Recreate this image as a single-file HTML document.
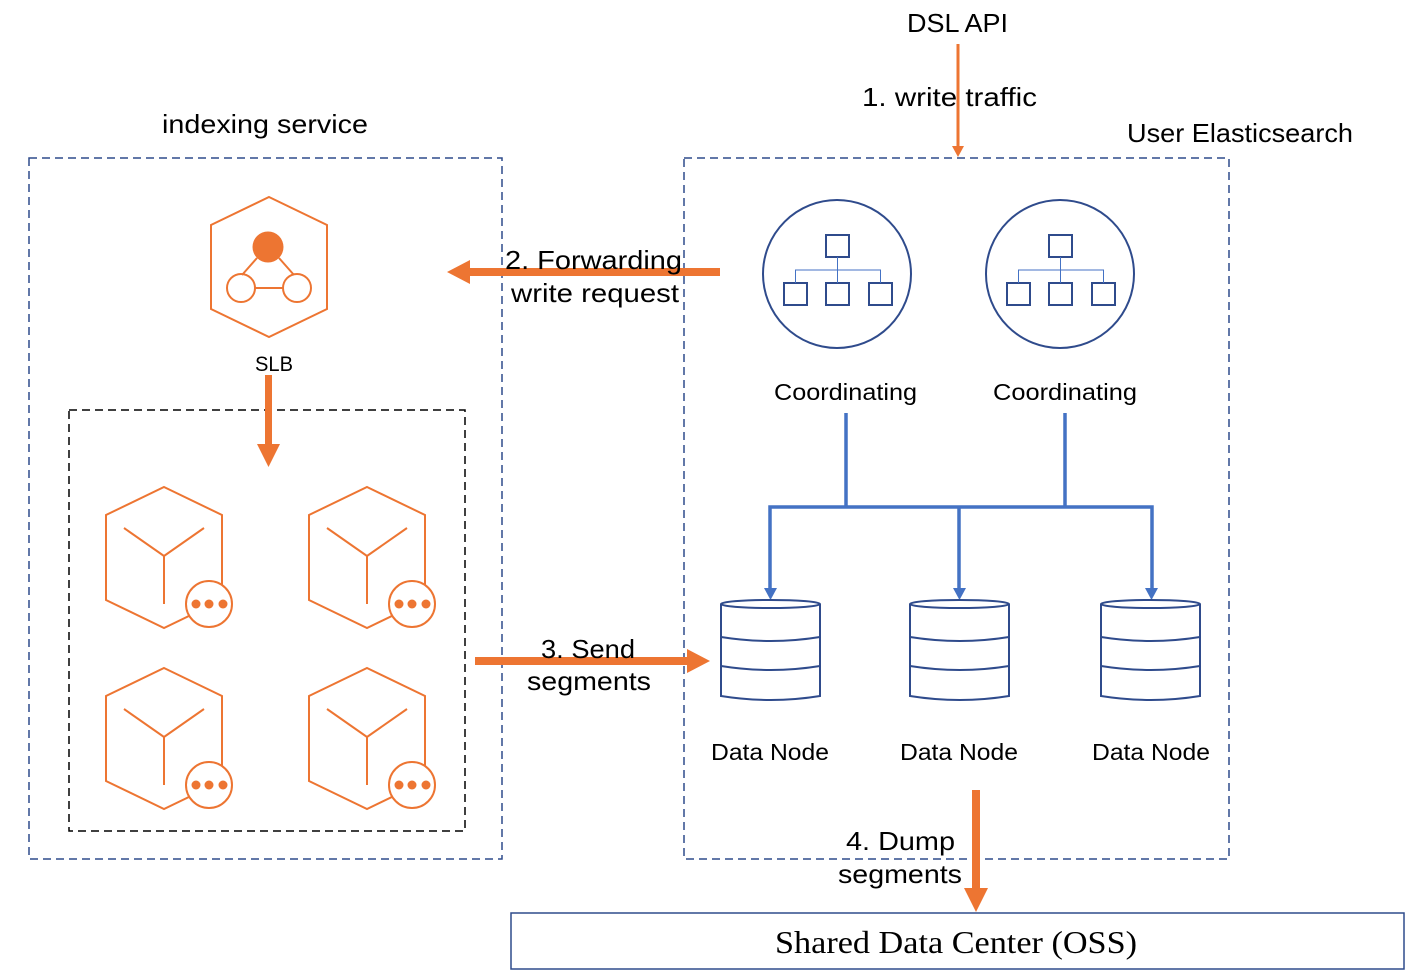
<!DOCTYPE html>
<html><head><meta charset="utf-8"><style>
html,body{margin:0;padding:0;background:#fff;}
svg{display:block;}
text{font-family:"Liberation Sans","DejaVu Sans",sans-serif;fill:#000;}
</style></head><body>
<svg width="1426" height="980" viewBox="0 0 1426 980" xmlns="http://www.w3.org/2000/svg">
<defs>
<g id="cube" fill="none" stroke="#ED7532" stroke-width="2">
  <polygon points="164,487 222,515 222,600 164,628 106,600 106,515" />
  <path d="M124,528 L164,556 L204,528 M164,556 L164,604"/>
  <circle cx="209" cy="604" r="23" fill="#fff"/>
  <g fill="#ED7532" stroke="none"><circle cx="196" cy="604" r="4.5"/><circle cx="209" cy="604" r="4.5"/><circle cx="223" cy="604" r="4.5"/></g>
</g>
<g id="coord" fill="none" stroke="#2F4B8C" stroke-width="2">
  <circle cx="837" cy="274" r="74"/>
  <rect x="826" y="235" width="23" height="22"/>
  <rect x="784" y="283" width="23" height="22"/>
  <rect x="826" y="283" width="23" height="22"/>
  <rect x="869" y="283" width="23" height="22"/>
  <path d="M837.5,257 V283 M795.5,283 V270 H880.5 V283" stroke="#4472C4" stroke-width="1"/>
</g>
<g id="cyl" fill="#fff" stroke="#2F4B8C" stroke-width="2">
  <path d="M721,604 V696 Q771,704 820,696 V604"/>
  <ellipse cx="770.5" cy="604" rx="49.5" ry="4"/>
  <path d="M721,637 Q771,645 820,637 M721,666 Q771,674 820,666" fill="none"/>
</g>
</defs>

<rect x="29" y="158" width="473" height="701" fill="none" stroke="#2F4B8C" stroke-width="1.5" stroke-dasharray="8,5"/>
<rect x="684" y="158" width="545" height="701" fill="none" stroke="#2F4B8C" stroke-width="1.5" stroke-dasharray="8,5"/>
<rect x="69" y="410" width="396" height="421" fill="none" stroke="#000" stroke-width="1.5" stroke-dasharray="8,5"/>

<text x="162" y="133" font-size="26" textLength="206" lengthAdjust="spacingAndGlyphs">indexing service</text>
<text x="1127" y="142" font-size="26" textLength="226" lengthAdjust="spacingAndGlyphs">User Elasticsearch</text>
<text x="907" y="32" font-size="26" textLength="101" lengthAdjust="spacingAndGlyphs">DSL API</text>

<g fill="none" stroke="#ED7532" stroke-width="2">
  <polygon points="269,197 327,225 327,309 269,337 211,309 211,225"/>
  <path d="M257,258 L242,275 M279,258 L294,275 M255,288 H283"/>
  <circle cx="241" cy="288" r="14"/>
  <circle cx="297" cy="288" r="14"/>
</g>
<circle cx="268" cy="247" r="15.5" fill="#ED7532"/>
<text x="255" y="371" font-size="21" textLength="38" lengthAdjust="spacingAndGlyphs">SLB</text>
<rect x="265" y="375" width="7" height="70" fill="#ED7532"/>
<polygon points="257,444 280,444 268.5,467" fill="#ED7532"/>

<use href="#cube"/>
<use href="#cube" x="203"/>
<use href="#cube" y="181"/>
<use href="#cube" x="203" y="181"/>

<use href="#coord"/>
<use href="#coord" x="223"/>
<text x="774" y="400" font-size="23" textLength="143" lengthAdjust="spacingAndGlyphs">Coordinating</text>
<text x="993" y="400" font-size="23" textLength="144" lengthAdjust="spacingAndGlyphs">Coordinating</text>

<g stroke="#4472C4" stroke-width="3.5" fill="none">
  <path d="M846,413 V507 M1065,413 V507 M770,590 V507 H1152 V590 M959,507 V590"/>
</g>
<g fill="#4472C4">
  <polygon points="764,588 777,588 770.5,600"/>
  <polygon points="953,588 966,588 959.5,600"/>
  <polygon points="1145,588 1158,588 1151.5,600"/>
</g>

<use href="#cyl"/>
<use href="#cyl" x="189"/>
<use href="#cyl" x="380"/>
<text x="711" y="760" font-size="23" textLength="118" lengthAdjust="spacingAndGlyphs">Data Node</text>
<text x="900" y="760" font-size="23" textLength="118" lengthAdjust="spacingAndGlyphs">Data Node</text>
<text x="1092" y="760" font-size="23" textLength="118" lengthAdjust="spacingAndGlyphs">Data Node</text>

<rect x="956.5" y="44" width="3" height="104" fill="#ED7532"/>
<polygon points="952,146 964,146 958,157" fill="#ED7532"/>
<text x="862" y="106" font-size="26" textLength="175" lengthAdjust="spacingAndGlyphs">1. write traffic</text>

<rect x="468" y="268" width="252" height="8" fill="#ED7532"/>
<polygon points="470,260 470,284 447,272" fill="#ED7532"/>
<text x="505" y="269" font-size="26" textLength="177" lengthAdjust="spacingAndGlyphs">2. Forwarding</text>
<text x="511" y="302" font-size="26" textLength="168" lengthAdjust="spacingAndGlyphs">write request</text>

<rect x="475" y="657" width="215" height="8" fill="#ED7532"/>
<polygon points="687,649 687,673 710,661" fill="#ED7532"/>
<text x="541" y="658" font-size="26" textLength="94" lengthAdjust="spacingAndGlyphs">3. Send</text>
<text x="527" y="690" font-size="26" textLength="124" lengthAdjust="spacingAndGlyphs">segments</text>

<rect x="972" y="790" width="8" height="100" fill="#ED7532"/>
<polygon points="964,888 988,888 976,912" fill="#ED7532"/>
<text x="846" y="850" font-size="26" textLength="109" lengthAdjust="spacingAndGlyphs">4. Dump</text>
<text x="838" y="883" font-size="26" textLength="124" lengthAdjust="spacingAndGlyphs">segments</text>

<rect x="511" y="913" width="893" height="56" fill="#fff" stroke="#2F4B8C" stroke-width="1.5"/>
<text x="775" y="953" font-size="32" textLength="362" lengthAdjust="spacingAndGlyphs" style="font-family:'Liberation Serif',serif">Shared Data Center (OSS)</text>
</svg>
</body></html>
